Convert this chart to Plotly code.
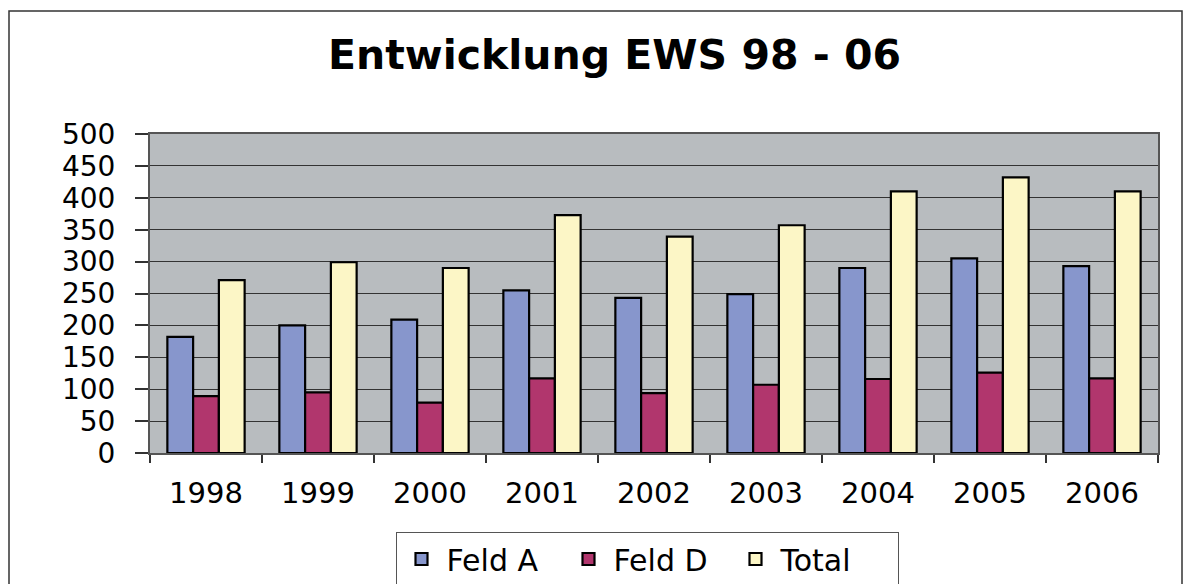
import plotly.graph_objects as go

years = ["1998", "1999", "2000", "2001", "2002", "2003", "2004", "2005", "2006"]
feld_a = [182, 200, 209, 255, 243, 249, 290, 305, 293]
feld_d = [89, 95, 79, 117, 94, 107, 116, 126, 117]
total = [271, 299, 290, 373, 339, 357, 410, 432, 410]

series = [("Feld A", feld_a, "#8796CC"), ("Feld D", feld_d, "#B1366D"), ("Total", total, "#FCF6C6")]

OFF = 8  # page body margin
W, H = 1192 - 2 * OFF, 584 - OFF
L, R, T, B = 150, 1158, 134, 453  # target pixel positions in the screenshot

fig = go.Figure()
for name, vals, col in series:
    fig.add_trace(go.Bar(x=years, y=vals, name=name,
                         marker=dict(color=col, line=dict(color="black", width=2.2))))

def px_x(p):
    return (p - L) / (R - L)

def px_y(p):
    return (B - p) / (B - T)

font = "DejaVu Sans, Arial, sans-serif"
fig.update_layout(
    width=W, height=H,
    margin=dict(l=L - OFF, r=W - (R - OFF), t=T - OFF, b=H - (B - OFF), autoexpand=False),
    paper_bgcolor="white", plot_bgcolor="#B8BCBF",
    barmode="group", bargap=0.31, bargroupgap=0,
    font=dict(family=font, color="black"),
    showlegend=True,
    legend=dict(orientation="h", x=px_x(647), xanchor="center", y=px_y(559), yanchor="middle",
                bgcolor="white", bordercolor="#555555", borderwidth=1,
                font=dict(size=30, family=font), itemwidth=40, entrywidth=112,
                traceorder="normal"),
    annotations=[dict(text="<b>Entwicklung EWS 98 - 06</b>", xref="paper", yref="paper",
                      x=px_x(614), y=px_y(55), xanchor="center", yanchor="middle",
                      showarrow=False, font=dict(size=41, family=font, color="black"))],
    shapes=[dict(type="rect", xref="paper", yref="paper",
                 x0=px_x(9), x1=px_x(1182), y0=px_y(640), y1=px_y(11),
                 line=dict(color="#333333", width=1.5), fillcolor="rgba(0,0,0,0)", layer="below")],
)
fig.update_xaxes(type="category", tickson="boundaries", ticks="outside", ticklen=8,
                 tickcolor="#333333", tickwidth=1.5, showline=True, linecolor="#555555",
                 linewidth=2, mirror=True, showgrid=False,
                 tickfont=dict(size=29, family=font), ticklabelstandoff=13)
fig.update_yaxes(range=[0, 500], dtick=50, ticks="outside", ticklen=13, tickcolor="#333333",
                 tickwidth=1.5, showline=True, linecolor="#555555", linewidth=2, mirror=True,
                 showgrid=True, gridcolor="#333333", gridwidth=1, zeroline=False,
                 tickfont=dict(size=28, family=font), ticklabelstandoff=14)

fig.write_html("out.html")
